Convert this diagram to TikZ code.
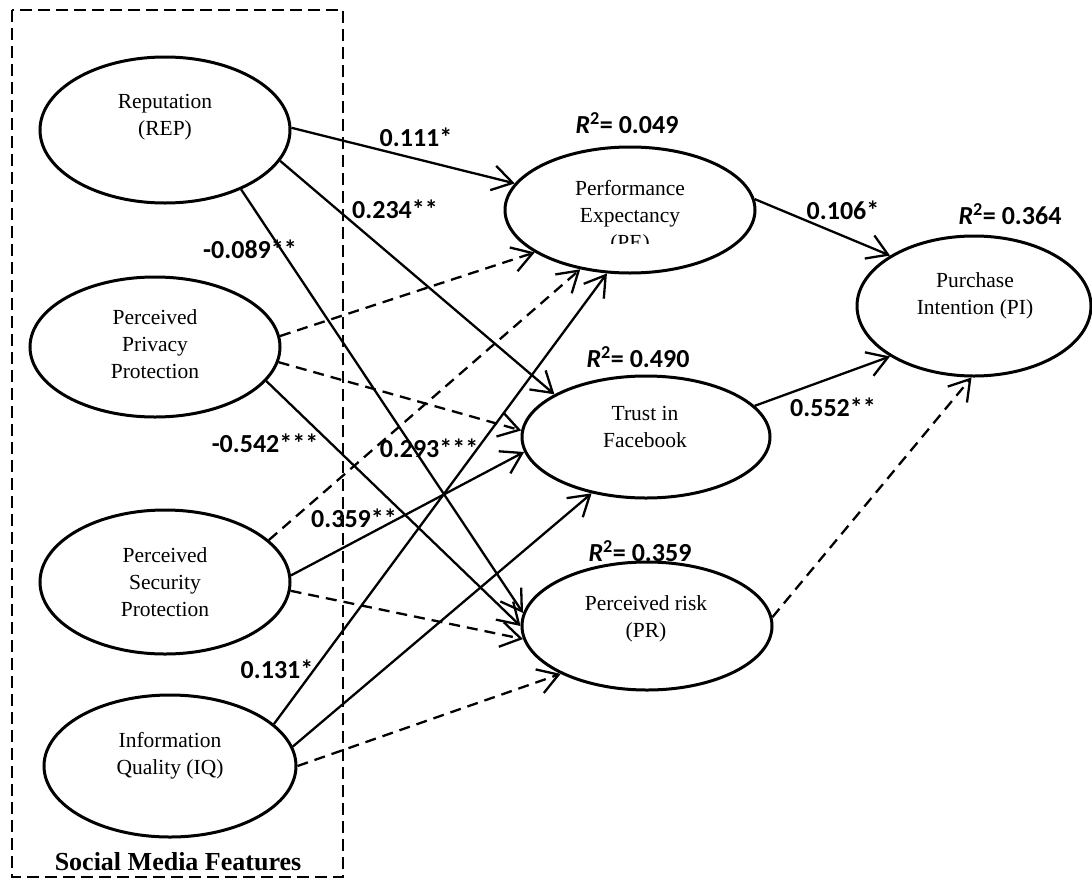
\documentclass[tikz,border=0pt]{standalone}
\usepackage{fontspec}
\setmainfont{Liberation Serif}
\newfontfamily\labfont{Carlito}
\usetikzlibrary{arrows.meta,shapes.geometric}
\begin{document}
\begin{tikzpicture}[x=1pt,y=-1pt,
  latent/.style={ellipse,draw,line width=3pt,inner sep=0pt},
  txt/.style={align=center,inner sep=0pt,font=\fontsize{21.5}{27}\selectfont},
  coef/.style={inner sep=0pt,font=\labfont\bfseries\fontsize{26}{30}\selectfont},
  grp/.style={draw,line width=2.5pt,dash pattern=on 12pt off 6pt},
  sig/.style={line width=2.3pt,-{Straight Barb[length=20pt,width=25pt,line width=2.3pt]}},
  ns/.style={sig,dash pattern=on 11pt off 7pt},
]
\useasboundingbox (0,0) rectangle (1092,881);
% group box
\draw[grp] (12,10) rectangle (343,877);
\node[inner sep=0pt,font=\bfseries\fontsize{26}{30}\selectfont] (SMF) at (178,862) {Social Media Features};
% ellipses
\node[latent,minimum width=250pt,minimum height=146pt] (REP) at (165,130) {};
\node[latent,minimum width=250pt,minimum height=140pt] (PPP) at (155,347) {};
\node[latent,minimum width=250pt,minimum height=144pt] (PSP) at (165,582) {};
\node[latent,minimum width=252pt,minimum height=142pt] (IQ) at (170,766) {};
\node[latent,minimum width=250pt,minimum height=126pt] (PE) at (630,210) {};
\node[latent,minimum width=248pt,minimum height=122pt] (TF) at (646,437) {};
\node[latent,minimum width=250pt,minimum height=128pt] (PR) at (647,626) {};
\node[latent,minimum width=234pt,minimum height=140pt] (PI) at (974,306) {};
% ellipse texts
\node[txt] (REPt) at (165,117) {Reputation\\(REP)};
\node[txt] (PPPt) at (155,344) {Perceived\\Privacy\\Protection};
\node[txt] (PSPt) at (165,582) {Perceived\\Security\\Protection};
\node[txt] (IQt) at (170,756) {Information\\Quality (IQ)};
\begin{scope}
\clip (500,150) rectangle (760,243);
\node[txt] (PEt) at (630,217) {Performance\\Expectancy\\(PE)};
\end{scope}
\node[txt] (TFt) at (645,427) {Trust in\\Facebook};
\node[txt] (PRt) at (646,619) {Perceived risk\\(PR)};
\node[txt] (PIt) at (975,296) {Purchase\\Intention (PI)};
% paths
\draw[sig] (REP.1) -- (PE.167);
\draw[sig] (REP.-15) -- (TF.155);
\draw[sig] (REP.-38) -- (PR.174);
\draw[ns] (PPP.5) -- (PE.204);
\draw[ns] (PPP.-7) -- (TF.177);
\draw[sig] (PPP.-17) -- (PR.180);
\draw[ns] (PSP.22) -- (PE.230);
\draw[sig] (PSP.3) -- (TF.187);
\draw[ns] (PSP.-4) -- (PR.186);
\draw[sig] (IQ.22) -- (PE.250);
\draw[sig] (IQ.9) -- (TF.226);
\draw[ns] (IQ.0) -- (PR.209);
\draw[sig] (PE.5) -- (PI.149);
\draw[sig] (TF.16) -- (PI.211);
\draw[ns] (PR.4) -- (PI.268);
% coefficients
\node[coef] (c1) at (416,137) {0.111*};
\node[coef] (c2) at (395,209) {0.234**};
\node[coef] (c3) at (250,249) {-0.089**};
\node[coef] (c4) at (843,210) {0.106*};
\node[coef] (c5) at (833,407) {0.552**};
\node[coef] (c6) at (265,443) {-0.542***};
\node[coef] (c7) at (429,448) {0.293***};
\node[coef] (c8) at (354,518) {0.359**};
\node[coef] (c9) at (277,669) {0.131*};
% R squared
\node[coef] (r1) at (627,123) {{\itshape R}\textsuperscript{2}= 0.049};
\node[coef] (r2) at (1010,214) {{\itshape R}\textsuperscript{2}= 0.364};
\node[coef] (r3) at (638,357) {{\itshape R}\textsuperscript{2}= 0.490};
\node[coef] (r4) at (640,551) {{\itshape R}\textsuperscript{2}= 0.359};
\end{tikzpicture}
\end{document}
